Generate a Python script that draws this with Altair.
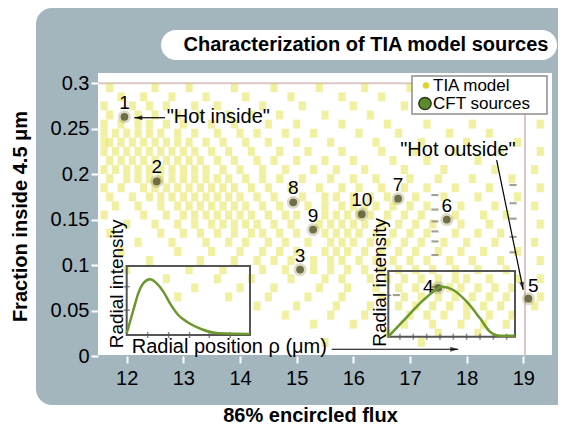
import altair as alt
import pandas as pd

FONT = "Liberation Sans"
PANEL = "#a3b5bd"

# ---------------- data ----------------
x_ticks = [12, 13, 14, 15, 16, 17, 18, 19]
y_ticks = [0, 0.05, 0.1, 0.15, 0.2, 0.25, 0.3]
x_domain = [11.493, 19.507]
y_domain = [0, 0.309]

# CFT sources
cft_id = ["1", "2", "3", "4", "5", "6", "7", "8", "9", "10"]
cft_x = [11.96, 12.53, 15.06, 17.50, 19.09, 17.65, 16.79, 14.94, 15.29, 16.15]
cft_y = [0.263, 0.192, 0.095, 0.075, 0.063, 0.150, 0.173, 0.169, 0.139, 0.156]

# TIA model points, read row by row (y level -> x positions)
row_295 = [11.7, 12.5, 13.1, 13.9, 14.6, 15.4, 16.2, 17.0]
row_285 = [11.9, 12.3, 12.8, 13.4, 14.1, 14.9, 15.8, 16.5]
row_275 = [11.6, 12.1, 12.4, 12.7, 13.2, 13.6, 14.4, 15.1, 16.0, 16.9, 17.5]
row_265 = [11.7, 12.2, 12.5, 12.9, 13.3, 13.8, 14.2, 14.7, 15.5, 16.3]
row_255 = [11.6, 11.9, 12.2, 12.4, 12.7, 13.0, 13.5, 13.9, 14.5, 15.0, 15.8, 16.6, 17.3, 18.1, 19.3]
row_245 = [11.6, 11.8, 12.0, 12.2, 12.4, 12.6, 12.9, 13.2, 13.6, 14.0, 14.3, 14.8, 15.3, 16.1, 16.8, 17.7, 18.4]
row_235 = [11.6, 11.7, 11.9, 12.1, 12.3, 12.5, 12.7, 12.9, 13.1, 13.4, 13.7, 14.1, 14.5, 15.0, 15.6, 16.4, 17.2, 18.0, 18.9]
row_225 = [11.6, 11.8, 12.0, 12.2, 12.4, 12.6, 12.8, 13.0, 13.2, 13.5, 13.8, 14.2, 14.7, 15.2, 15.8, 16.5, 17.1, 17.8, 18.6, 19.3]
row_215 = [11.7, 11.9, 12.1, 12.3, 12.5, 12.7, 12.9, 13.1, 13.3, 13.6, 13.9, 14.3, 14.6, 15.0, 15.5, 16.0, 16.7, 17.3, 18.2]
row_205 = [11.6, 11.8, 12.0, 12.2, 12.4, 12.6, 12.8, 13.0, 13.2, 13.4, 13.7, 14.0, 14.4, 14.8, 15.3, 15.7, 16.2, 16.9, 17.6, 18.5, 19.2]
row_195 = [11.7, 12.0, 12.2, 12.4, 12.6, 12.8, 13.0, 13.2, 13.4, 13.6, 13.8, 14.1, 14.4, 14.7, 15.1, 15.6, 16.0, 16.4, 17.0, 17.5, 18.1, 18.8]
row_185 = [11.6, 11.9, 12.3, 12.5, 12.7, 12.9, 13.1, 13.3, 13.5, 13.7, 13.9, 14.2, 14.5, 14.9, 15.4, 15.8, 16.1, 16.5, 16.9, 17.3, 17.8, 18.4, 19.3]
row_175 = [11.7, 12.1, 12.4, 12.6, 12.8, 13.0, 13.2, 13.4, 13.6, 13.8, 14.0, 14.3, 14.6, 15.1, 15.5, 15.7, 16.0, 16.3, 16.6, 17.1, 17.6, 18.2, 18.9]
row_165 = [11.8, 12.2, 12.6, 12.9, 13.1, 13.3, 13.5, 13.7, 13.9, 14.1, 14.4, 14.7, 15.2, 15.5, 15.8, 16.0, 16.2, 16.4, 16.7, 17.0, 17.3, 17.9, 18.5, 19.2]
row_155 = [11.6, 12.3, 12.7, 13.0, 13.2, 13.4, 13.6, 13.8, 14.0, 14.2, 14.5, 14.8, 15.0, 15.5, 15.7, 15.9, 16.1, 16.3, 16.6, 16.9, 17.2, 17.8, 18.3, 18.7]
row_145 = [12.0, 12.5, 12.9, 13.2, 13.5, 13.7, 13.9, 14.1, 14.3, 14.6, 14.9, 15.4, 15.6, 15.8, 16.0, 16.2, 16.5, 16.8, 17.1, 17.4, 17.9, 18.4, 19.3]
row_135 = [11.7, 12.6, 13.0, 13.3, 13.6, 13.9, 14.2, 14.4, 14.7, 15.0, 15.5, 15.7, 15.9, 16.1, 16.4, 16.7, 17.0, 17.3, 17.8, 18.2, 18.6]
row_125 = [12.2, 12.8, 13.4, 13.8, 14.1, 14.5, 14.8, 15.2, 15.6, 15.8, 16.0, 16.3, 16.6, 16.9, 17.2, 17.6, 18.0, 18.5, 19.2]
row_115 = [11.9, 12.9, 13.5, 14.0, 14.4, 14.7, 15.0, 15.5, 15.7, 15.9, 16.2, 16.5, 16.8, 17.1, 17.5, 17.9, 18.3, 18.9]
row_105 = [12.4, 13.3, 13.9, 14.3, 14.6, 14.9, 15.3, 15.6, 15.8, 16.1, 16.4, 16.7, 17.0, 17.3, 17.7, 18.1, 18.6, 19.3]
row_095 = [12.0, 13.1, 13.7, 14.4, 14.8, 15.3, 15.6, 15.9, 16.2, 16.5, 16.8, 17.1, 17.4, 17.8, 18.2, 18.7]
row_085 = [12.7, 13.6, 14.2, 14.9, 15.5, 15.8, 16.3, 16.6, 16.9, 17.2, 17.5, 17.8, 18.0, 18.4, 18.9, 19.3]
row_075 = [13.2, 14.0, 14.6, 15.4, 15.9, 16.4, 16.8, 17.1, 17.4, 17.7, 17.9, 18.2, 18.5, 18.8]
row_065 = [12.9, 13.8, 14.5, 15.2, 15.8, 16.5, 16.9, 17.2, 17.5, 17.8, 18.1, 18.4, 18.7, 19.3]
row_055 = [14.3, 15.0, 15.7, 16.3, 16.8, 17.1, 17.4, 17.7, 18.0, 18.3, 18.6, 19.2]
row_045 = [14.8, 15.6, 16.2, 17.0, 17.3, 17.6, 18.0, 18.4, 18.8]
row_035 = [15.3, 16.0, 16.9, 17.4, 17.9, 18.3, 18.7]
row_025 = [16.6, 17.5, 18.2]
row_015 = [15.5, 17.2]

tia_levels = [0.295, 0.285, 0.275, 0.265, 0.255, 0.245, 0.235, 0.225, 0.215, 0.205,
              0.195, 0.185, 0.175, 0.165, 0.155, 0.145, 0.135, 0.125, 0.115, 0.105,
              0.095, 0.085, 0.075, 0.065, 0.055, 0.045, 0.035, 0.025, 0.015]
tia_rows = [row_295, row_285, row_275, row_265, row_255, row_245, row_235, row_225, row_215, row_205,
            row_195, row_185, row_175, row_165, row_155, row_145, row_135, row_125, row_115, row_105,
            row_095, row_085, row_075, row_065, row_055, row_045, row_035, row_025, row_015]

# grey dashes in the model grid
dash_x = [17.44, 17.44, 17.44, 17.44, 17.44, 17.44, 17.44, 18.82, 18.82, 18.82, 18.82, 18.82, 16.76]
dash_y = [0.177, 0.161, 0.148, 0.137, 0.126, 0.111, 0.076, 0.188, 0.168, 0.151, 0.131, 0.114, 0.067]

# faint frame of the underlying scatter image
frame_x = 19.03
frame_y = 0.3

# annotation arrows (start -> tip) and head angles
arrow_x0 = [12.676, 18.530, 15.618]
arrow_y0 = [0.262, 0.2155, 0.0074]
arrow_x1 = [12.134, 18.999, 17.852]
arrow_y1 = [0.262, 0.0726, 0.0074]
arrow_ang = [270, 168.4, 90]

# inset radial profiles (radial position 0..1, intensity 0..1)
inner_r = [0.0, 0.054, 0.094, 0.135, 0.189, 0.243, 0.297, 0.351, 0.418, 0.5, 0.608, 0.743, 1.0]
inner_i = [0.025, 0.362, 0.604, 0.749, 0.807, 0.749, 0.628, 0.459, 0.29, 0.178, 0.083, 0.025, 0.015]
outer_r = [0.0, 0.12, 0.25, 0.355, 0.421, 0.513, 0.619, 0.724, 0.803, 0.881, 1.0]
outer_i = [0.0, 0.245, 0.508, 0.685, 0.761, 0.711, 0.533, 0.28, 0.076, 0.015, 0.015]
inner_ticks_r = [0.17, 0.34, 0.51, 0.67, 0.84]
inner_ticks_i = [0.36, 0.70]
outer_ticks_r = [0.092, 0.197, 0.303, 0.408, 0.513, 0.618, 0.724, 0.829, 0.934]
outer_ticks_i = [0.63]

legend_labels = ["TIA model", "CFT sources"]
title_text = "Characterization of TIA model sources"

# ---------------- tables ----------------
tia = pd.DataFrame([{"x": xv, "y": lv} for lv, row in zip(tia_levels, tia_rows) for xv in row])
cft = pd.DataFrame({"id": cft_id, "x": cft_x, "y": cft_y})
dashes = pd.DataFrame({"x": dash_x, "y": dash_y})
arrows = pd.DataFrame({"x": arrow_x0, "y": arrow_y0, "x2": arrow_x1, "y2": arrow_y1, "ang": arrow_ang})
frame_h = pd.DataFrame({"x": [x_domain[0]], "x2": [frame_x], "y": [frame_y]})
frame_v = pd.DataFrame({"x": [frame_x], "y": [0.0], "y2": [frame_y]})

XS = alt.Scale(domain=x_domain, nice=False, zero=False)
YS = alt.Scale(domain=y_domain, nice=False, zero=False)

x_axis = alt.Axis(values=x_ticks, format="d", labelFont=FONT, labelFontSize=20, labelColor="black",
                  tickColor="white", tickSize=7, tickWidth=2, domain=False, grid=False,
                  labelPadding=5, title="86% encircled flux", titleFont=FONT, titleFontSize=20,
                  titleFontWeight="bold", titleColor="black", titleBaseline="alphabetic",
                  titleY=65, titleX=212, zindex=1)
y_axis = alt.Axis(values=y_ticks, format=".2~f", labelFont=FONT, labelFontSize=20, labelColor="black",
                  tickColor="white", tickSize=7, tickWidth=2, domain=False, grid=False,
                  labelPadding=2, title="Fraction inside 4.5 \u03bcm", titleFont=FONT, titleFontSize=20,
                  titleFontWeight="bold", titleColor="black", titleBaseline="alphabetic",
                  titleAngle=270, titleAlign="center", titleX=-72, titleY=141, zindex=1)


def one():
    return alt.Chart(alt.Data(values=[{}]))


def px(field):
    return alt.X(field, type="quantitative", scale=XS, axis=x_axis)


def py(field):
    return alt.Y(field, type="quantitative", scale=YS, axis=y_axis)


# decorations
panel = one().mark_rect(color=PANEL, cornerRadius=16).encode(
    x=alt.value(-62), x2=alt.value(490), y=alt.value(-67), y2=alt.value(330))
tab = one().mark_rect(color="white", cornerRadius=15).encode(
    x=alt.value(63), x2=alt.value(459), y=alt.value(-45), y2=alt.value(-15))
tab_text = one().mark_text(text=title_text, font=FONT, fontSize=20, fontWeight="bold",
                           align="center", baseline="middle", color="black").encode(
    x=alt.value(268), y=alt.value(-30))
plot_bg = one().mark_rect(color="white").encode(
    x=alt.value(0), x2=alt.value(454), y=alt.value(-2), y2=alt.value(280))

frame1 = alt.Chart(frame_h).mark_rule(color="#dcc6c6", strokeWidth=2).encode(
    x=px("x"), x2="x2", y=py("y"))
frame2 = alt.Chart(frame_v).mark_rule(color="#dcc6c6", strokeWidth=2).encode(
    x=px("x"), y=py("y"), y2="y2")

tia_layer = alt.Chart(tia).mark_point(
    shape="M-0.8,-1L0.8,-1L0.8,1L-0.8,1Z", filled=True, size=80,
    color="#e2e03a", opacity=0.48, strokeWidth=0).encode(x=px("x"), y=py("y"))

dash_layer = alt.Chart(dashes).mark_point(
    shape="M-1,-0.3L1,-0.3L1,0.3L-1,0.3Z", filled=True, size=50,
    color="#8a8a78", opacity=0.8, strokeWidth=0).encode(x=px("x"), y=py("y"))

cft_halo = alt.Chart(cft).mark_circle(size=170, color="#8c8744", opacity=0.3).encode(x=px("x"), y=py("y"))
cft_core = alt.Chart(cft).mark_circle(size=60, color="#5c5a30", opacity=0.85).encode(x=px("x"), y=py("y"))

lab_main = alt.Chart(cft).transform_filter(
    "datum.id != '4' && datum.id != '5'").mark_text(
    font=FONT, fontSize=19, dy=-14, color="black").encode(x=px("x"), y=py("y"), text="id:N")
lab_4 = alt.Chart(cft).transform_filter("datum.id == '4'").mark_text(
    font=FONT, fontSize=19, dx=-10, dy=-1, color="black").encode(x=px("x"), y=py("y"), text="id:N")
lab_5 = alt.Chart(cft).transform_filter("datum.id == '5'").mark_text(
    font=FONT, fontSize=19, dx=5, dy=-13, color="black").encode(x=px("x"), y=py("y"), text="id:N")

shafts = alt.Chart(arrows).mark_rule(color="black", strokeWidth=1.2).encode(
    x=px("x"), y=py("y"), x2="x2", y2="y2")
heads = alt.Chart(arrows).mark_point(
    shape="M0,0L-0.3,1L0.3,1Z", filled=True, size=256, color="black", strokeWidth=0).encode(
    x=px("x2"), y=py("y2"), angle=alt.Angle("ang:Q", scale=None))

ann = pd.DataFrame({
    "x": [12.706, 17.847, 12.088],
    "y": [0.2631, 0.2265, 0.0102],
    "t": ["\"Hot inside\"", "\"Hot outside\"", "Radial position \u03c1 (\u03bcm)"],
    "al": ["left", "center", "left"],
})
ann_left = alt.Chart(ann).transform_filter("datum.al == 'left'").mark_text(
    font=FONT, fontSize=20, align="left", baseline="middle", color="black").encode(
    x=px("x"), y=py("y"), text="t:N")
ann_center = alt.Chart(ann).transform_filter("datum.al == 'center'").mark_text(
    font=FONT, fontSize=20, align="center", baseline="middle", color="black").encode(
    x=px("x"), y=py("y"), text="t:N")

rot = pd.DataFrame({"x": [11.926, 16.576], "y": [0.0085, 0.0102], "t": ["Radial intensity", "Radial intensity"]})
rot_text = alt.Chart(rot).mark_text(font=FONT, fontSize=19, angle=270, align="left",
                                    baseline="alphabetic", color="black").encode(
    x=px("x"), y=py("y"), text="t:N")

# legend (drawn by hand, as in the figure)
leg_box = one().mark_rect(fill="white", stroke="#8d8d8d", strokeWidth=1.5).encode(
    x=alt.value(314), x2=alt.value(449), y=alt.value(1), y2=alt.value(39))
leg_dot1 = one().mark_circle(size=40, color="#ddd52a", opacity=1).encode(x=alt.value(328), y=alt.value(10.5))
leg_dot2 = one().mark_point(size=150, filled=True, fill="#5e8a2e", stroke="#2b3a14",
                            strokeWidth=1.5, opacity=1).encode(x=alt.value(327), y=alt.value(28.5))
leg_t1 = one().mark_text(text=legend_labels[0], font=FONT, fontSize=17, align="left",
                         baseline="middle", color="black").encode(x=alt.value(335), y=alt.value(10.5))
leg_t2 = one().mark_text(text=legend_labels[1], font=FONT, fontSize=17, align="left",
                         baseline="middle", color="black").encode(x=alt.value(335), y=alt.value(29))

main = alt.layer(panel, tab, tab_text, plot_bg, frame1, frame2, tia_layer, dash_layer,
                 cft_halo, cft_core, lab_main, lab_4, lab_5, shafts, heads,
                 ann_left, ann_center, rot_text,
                 leg_box, leg_dot1, leg_dot2, leg_t1, leg_t2)


def inset(r, i, tr, ti, xrange, yrange):
    xs = alt.Scale(domain=[0, 1], range=xrange, nice=False, zero=False)
    ys = alt.Scale(domain=[0, 1], range=yrange, nice=False, zero=False)
    prof = pd.DataFrame({"r": r, "i": i})
    box = pd.DataFrame({"r": [0.0], "r2": [1.0], "i": [0.0], "i2": [1.0]})
    tb = pd.DataFrame({"r": tr, "i": [0.0] * len(tr)})
    tl = pd.DataFrame({"r": [0.0] * len(ti), "i": ti})
    frame = alt.Chart(box).mark_rect(fillOpacity=0, stroke="#555555", strokeWidth=2).encode(
        x=alt.X("r:Q", scale=xs, axis=None), x2="r2",
        y=alt.Y("i:Q", scale=ys, axis=None), y2="i2")
    curve = alt.Chart(prof).mark_line(color="#6a982c", strokeWidth=2.5, interpolate="monotone").encode(
        x=alt.X("r:Q", scale=xs, axis=None), y=alt.Y("i:Q", scale=ys, axis=None))
    tick_b = alt.Chart(tb).mark_tick(orient="vertical", size=6, thickness=1.5, color="#555555").encode(
        x=alt.X("r:Q", scale=xs, axis=None), y=alt.Y("i:Q", scale=ys, axis=None))
    tick_l = alt.Chart(tl).mark_tick(orient="horizontal", size=6, thickness=1.5, color="#555555").encode(
        x=alt.X("r:Q", scale=xs, axis=None), y=alt.Y("i:Q", scale=ys, axis=None))
    return alt.layer(tick_b, tick_l, frame, curve)


inset_in = inset(inner_r, inner_i, inner_ticks_r, inner_ticks_i, [28.7, 152], [260, 191])
inset_out = inset(outer_r, outer_i, outer_ticks_r, outer_ticks_i, [290.3, 417], [261.7, 196])

chart = alt.layer(main, inset_in, inset_out).resolve_scale(
    x="independent", y="independent"
).properties(
    width=454, height=281,
    autosize=alt.AutoSizeParams(type="none"),
    padding={"left": 90, "top": 67, "right": 6, "bottom": 68},
).configure_view(stroke=None).configure(background="white")

chart.save("out.html", embed_options={"renderer": "svg", "actions": False})
